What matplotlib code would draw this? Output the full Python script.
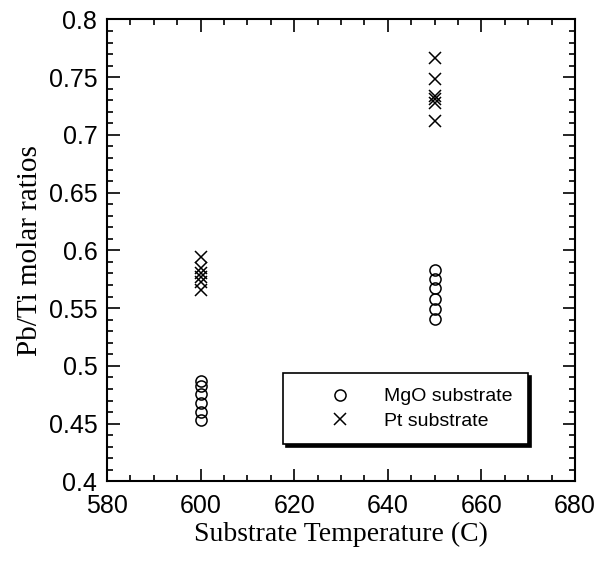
#
# Pb/Ti molar ratio vs substrate temperature, MgO and Pt substrates
#

import matplotlib.pyplot as plt
from matplotlib.ticker import MultipleLocator

# --- data ---
mgo_temp = [600, 600, 600, 600, 600, 600,
            650, 650, 650, 650, 650, 650]
mgo_ratio = [0.487, 0.483, 0.476, 0.468, 0.460, 0.453,
             0.583, 0.575, 0.567, 0.558, 0.549, 0.541]

pt_temp = [600, 600, 600, 600, 600, 600,
           650, 650, 650, 650, 650, 650]
pt_ratio = [0.594, 0.585, 0.580, 0.577, 0.573, 0.566,
            0.767, 0.748, 0.734, 0.731, 0.728, 0.712]

x_ticks = [580, 600, 620, 640, 660, 680]
y_ticks = [0.4, 0.45, 0.5, 0.55, 0.6, 0.65, 0.7, 0.75, 0.8]
y_tick_labels = ['0.4', '0.45', '0.5', '0.55', '0.6', '0.65', '0.7', '0.75', '0.8']

sans = ['Liberation Sans', 'DejaVu Sans']
serif = ['Liberation Serif', 'DejaVu Serif']

fig = plt.figure(figsize=(5.98, 5.71), dpi=100)
ax = fig.add_axes([0.179, 0.157, 0.7825, 0.809])

ax.plot(mgo_temp, mgo_ratio, linestyle='none', marker='o', markersize=8,
        markerfacecolor='none', markeredgecolor='black', markeredgewidth=1.1,
        label='MgO substrate')
ax.plot(pt_temp, pt_ratio, linestyle='none', marker='x', markersize=9,
        color='black', markeredgewidth=1.1, label='Pt substrate')

ax.set_xlim(580, 680)
ax.set_ylim(0.4, 0.8)
ax.set_xticks(x_ticks)
ax.set_xticklabels([str(t) for t in x_ticks], family=sans, fontsize=18)
ax.set_yticks(y_ticks)
ax.set_yticklabels(y_tick_labels, family=sans, fontsize=18)
ax.xaxis.set_minor_locator(MultipleLocator(5))
ax.yaxis.set_minor_locator(MultipleLocator(0.01))

ax.tick_params(which='both', direction='in', top=True, right=True, width=1.2)
ax.tick_params(which='major', length=9)
ax.tick_params(which='minor', length=4.5)
ax.tick_params(axis='x', which='major', pad=9)
ax.tick_params(axis='y', which='major', pad=7)
for spine in ax.spines.values():
    spine.set_linewidth(1.5)

ax.set_xlabel('Substrate Temperature (C)', family=serif, fontsize=20, labelpad=3)
ax.set_ylabel('Pb/Ti molar ratios', family=serif, fontsize=21, labelpad=4)

leg = ax.legend(loc='lower left', bbox_to_anchor=(0.376, 0.08, 0.524, 0.161),
                mode='expand', borderaxespad=0, frameon=True, fancybox=False,
                prop={'family': sans, 'size': 14}, handletextpad=0.05,
                borderpad=0.75, labelspacing=0.35, handlelength=4.4,
                shadow={'color': 'black', 'alpha': 1.0})
leg.get_frame().set_edgecolor('black')
leg.get_frame().set_linewidth(1.2)

fig.savefig('out.png', dpi=100)
